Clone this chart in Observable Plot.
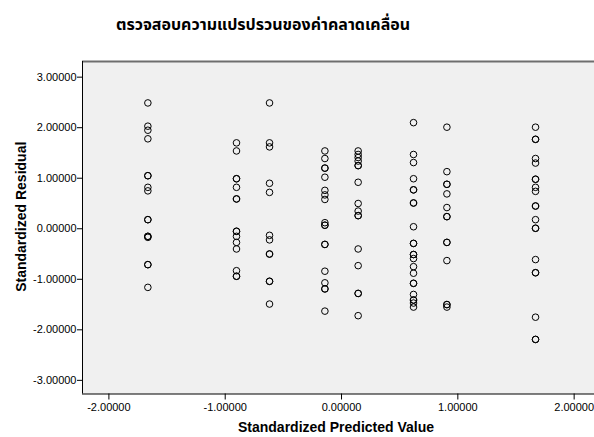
<!DOCTYPE html>
<html>
<head>
<meta charset="utf-8">
<script src="https://cdn.jsdelivr.net/npm/d3@7"></script>
<script src="https://cdn.jsdelivr.net/npm/@observablehq/plot@0.6"></script>
<style>
  html, body { margin: 0; padding: 0; background: #fff; }
  #title { position: relative; height: 40px; width: 594px; }
  #title span { position: absolute; left: 263px; top: 25px; transform: translate(-50%, -50%);
    font-family: "Noto Sans Thai", Tahoma, "DejaVu Sans", sans-serif; font-weight: bold; font-size: 16px; color: #000; white-space: nowrap; }
</style>
</head>
<body>
<div id="title"><span>ตรวจสอบความแปรปรวนของค่าคลาดเคลื่อน</span></div>
<div id="chart"></div>
<script>
const titleText = "ตรวจสอบความแปรปรวนของค่าคลาดเคลื่อน";
const xLabel = "Standardized Predicted Value";
const yLabel = "Standardized Residual";
const xTicks = [-2, -1, 0, 1, 2];
const yTicks = [-3, -2, -1, 0, 1, 2, 3];
const xDomain = [-2.227, 2.175];
const yDomain = [-3.27, 3.31];

// Standardized predicted values (one per column of points)
const predicted = [-1.665, -0.903, -0.619, -0.143, 0.143, 0.619, 0.906, 1.668];

// Standardized residuals for each predicted value (repeated values = overlapping points)
const residA = [2.49, 2.03, 1.95, 1.78, 1.05, 1.05, 0.82, 0.75, 0.18, 0.18, -0.15, -0.15, -0.17, -0.71, -0.71, -1.16];
const residB = [1.70, 1.54, 0.99, 0.99, 0.82, 0.59, 0.59, -0.05, -0.05, -0.15, -0.27, -0.40, -0.83, -0.94, -0.94];
const residC = [2.49, 1.70, 1.62, 0.90, 0.72, -0.13, -0.22, -0.50, -0.50, -1.04, -1.04, -1.49];
const residD = [1.54, 1.39, 1.20, 1.20, 1.02, 0.76, 0.67, 0.58, 0.12, 0.07, 0.07, -0.31, -0.31, -0.84, -1.07, -1.19, -1.19, -1.63];
const residE = [1.54, 1.47, 1.41, 1.34, 1.25, 1.25, 0.92, 0.50, 0.35, 0.26, 0.26, -0.40, -0.73, -1.28, -1.28, -1.72];
const residF = [2.10, 1.47, 1.31, 0.99, 0.77, 0.77, 0.51, 0.51, 0.04, -0.29, -0.29, -0.51, -0.51, -0.59, -0.75, -0.88, -1.08, -1.08, -1.30, -1.41, -1.41, -1.47, -1.55];
const residG = [2.01, 1.13, 0.88, 0.88, 0.69, 0.42, 0.24, 0.24, -0.27, -0.27, -0.63, -1.50, -1.50, -1.55];
const residH = [2.01, 1.77, 1.77, 1.39, 1.30, 0.98, 0.98, 0.82, 0.74, 0.45, 0.45, 0.18, 0.01, 0.01, -0.61, -0.87, -0.87, -1.75, -2.19, -2.19];

const residuals = [residA, residB, residC, residD, residE, residF, residG, residH];
const points = predicted.flatMap((x, i) => residuals[i].map(y => ({x, y})));

const fmt = d => d.toFixed(5);

const chart = Plot.plot({
  width: 594,
  height: 397,
  marginTop: 21,
  marginBottom: 43.5,
  marginLeft: 82,
  marginRight: 0,
  style: { fontFamily: "'Liberation Sans', Arial, sans-serif", background: "#fff", overflow: "visible" },
  x: { domain: xDomain },
  y: { domain: yDomain },
  marks: [
    Plot.frame({ fill: "#f0f0f0", stroke: "none" }),
    Plot.dot(points, { x: "x", y: "y", r: 3.3, stroke: "#000", strokeWidth: 1, fill: "none" }),
    Plot.ruleY([yDomain[1]], { stroke: "#6e6e6e", strokeWidth: 2 }),
    Plot.ruleY([yDomain[0]], { stroke: "#000", strokeWidth: 1 }),
    Plot.ruleX([xDomain[0]], { stroke: "#000", strokeWidth: 1 }),
    Plot.axisX({ ticks: xTicks, tickFormat: fmt, tickSize: 6, tickPadding: 3, fontSize: 11, label: null, stroke: "#000", color: "#000" }),
    Plot.axisY({ ticks: yTicks, tickFormat: fmt, tickSize: 5, tickPadding: 1, fontSize: 11, label: null, stroke: "#000", color: "#000" }),
    Plot.text([xLabel], { text: d => d, frameAnchor: "bottom", dx: -2.5, dy: 34, lineAnchor: "middle", textAnchor: "middle", fontWeight: "bold", fontSize: 14, fill: "#000" }),
    Plot.text([yLabel], { text: d => d, frameAnchor: "left", dx: -61, dy: -11, rotate: -90, lineAnchor: "middle", textAnchor: "middle", fontWeight: "bold", fontSize: 14, fill: "#000" })
  ]
});
document.getElementById("chart").appendChild(chart);
</script>
</body>
</html>
